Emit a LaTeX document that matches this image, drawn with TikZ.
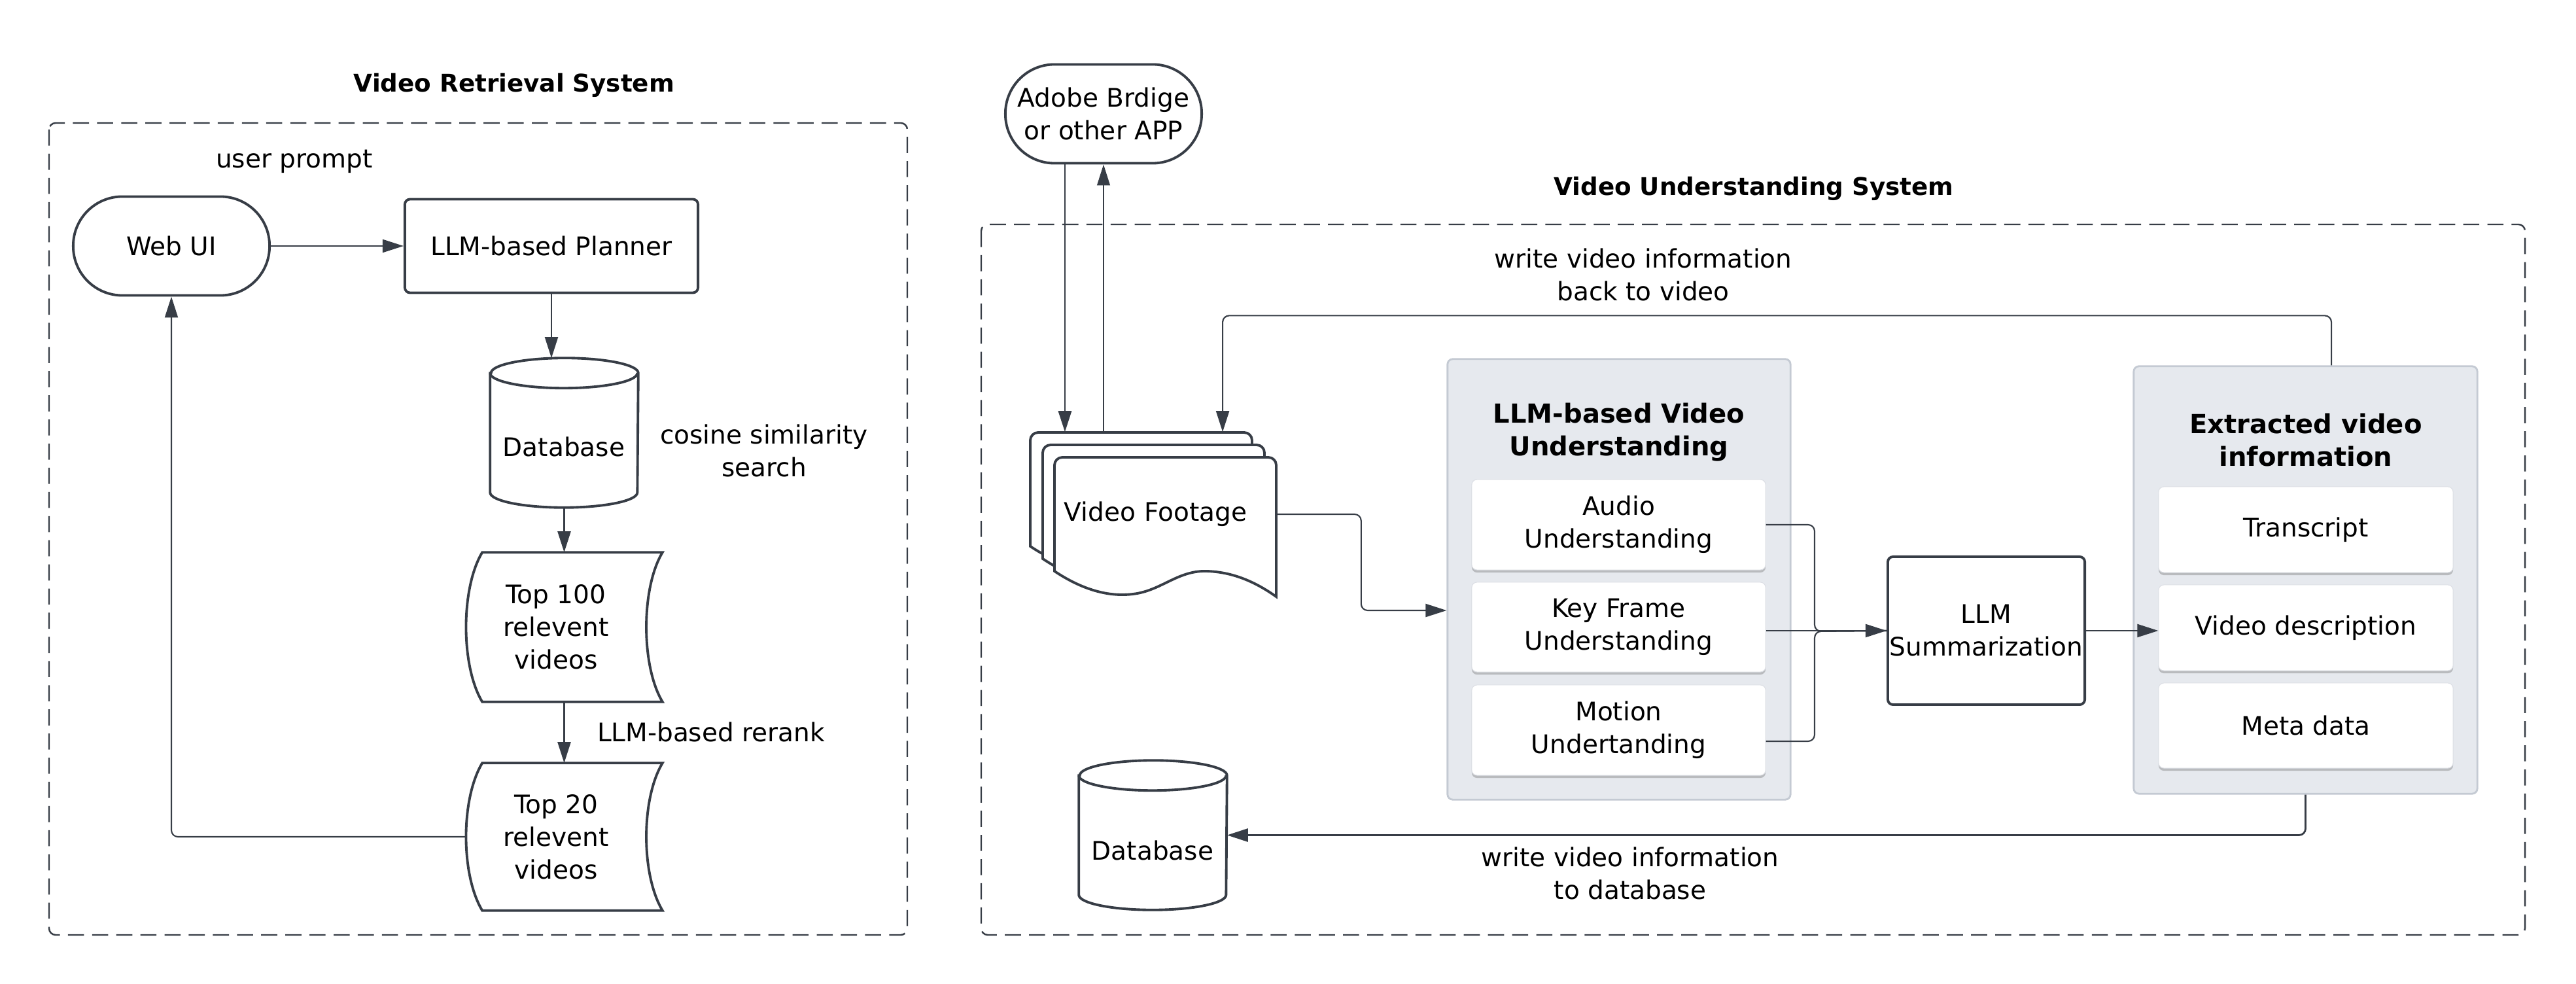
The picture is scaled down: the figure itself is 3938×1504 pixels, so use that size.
\documentclass[tikz,border=0pt]{standalone}
\usepackage{fontspec}
\setmainfont{DejaVu Sans}
\usetikzlibrary{arrows.meta,shadows,calc,backgrounds}
\definecolor{linec}{HTML}{373D46}
\definecolor{grpfill}{HTML}{E6E9EE}
\definecolor{grpdraw}{HTML}{C4CAD3}
\begin{document}
\begin{tikzpicture}[x=0.01cm, y=-0.01cm,
  txt/.style={font=\fontsize{11.1}{14.2}\selectfont, align=center, text=black, inner sep=0pt},
  shp/.style={draw=linec, line width=1.1pt, fill=white},
  conn/.style={draw=linec, line width=0.6pt},
  arr/.style={conn, -{Triangle[length=0.32cm,width=0.2cm]}},
  dbox/.style={draw=linec, line width=0.7pt, dash pattern=on 7pt off 3.5pt, rounded corners=0.1cm},
  grp/.style={fill=grpfill, draw=grpdraw, line width=0.8pt, rounded corners=0.08cm, inner sep=0pt},
  innerbox/.style={txt, fill=white, draw=grpdraw!60, line width=0.3pt, rounded corners=0.08cm,
    drop shadow={shadow xshift=0cm, shadow yshift=-0.04cm, opacity=0.35, fill=black!60}},
  ttl/.style={font=\fontsize{10.6}{13}\selectfont\bfseries, inner sep=0pt},
  gttl/.style={font=\fontsize{11.4}{14.2}\selectfont\bfseries, align=center, inner sep=0pt},
  stadium/.style={txt, shp, rounded corners=0.75cm, minimum width=3cm, minimum height=1.51cm},
  rbox/.style={txt, shp, rounded corners=0.08cm}
]
\useasboundingbox (0,0) rectangle (3938,1504);

% ---------------- Left system ----------------
\node[ttl] (lt) at (786,130) {Video Retrieval System};
\node[stadium] (webui) at (262,376) {Web UI};
\node[rbox, minimum width=4.48cm, minimum height=1.43cm] (planner) at (843,376) {LLM-based Planner};
\node[txt] (up) at (450,247) {user prompt};
\node[txt, minimum width=2.25cm, minimum height=2.27cm] (db1) at (862.5,661.5) {};
\node[txt] (db1t) at (862,683) {Database};
\node[txt] (cos) at (1168,689) {cosine similarity\\search};
\node[txt, minimum width=2.74cm, minimum height=2.27cm] (top100) at (850,958.5) {Top 100\\relevent\\videos};
\node[txt] (rr) at (1087,1119) {LLM-based rerank};
\node[txt, minimum width=2.74cm, minimum height=2.24cm] (top20) at (850,1279) {Top 20\\relevent\\videos};

% ---------------- Right system ----------------
\node[stadium] (adobe) at (1687,174) {Adobe Brdige\\or other APP};
\node[ttl] (rt) at (2681,288) {Video Understanding System};
\node[txt] (wb) at (2512,420) {write video information\\back to video};
\node[txt] (wd) at (2492,1335) {write video information\\to database};

\node[inner sep=0pt, minimum width=3.38cm, minimum height=1.74cm] (vfb) at (1744,748) {};
\node[txt, align=left, text width=3.09cm, inner xsep=0.15cm, minimum height=1.74cm] (vf) at (1781.5,786) {Video Footage};

\node[txt, minimum width=2.25cm, minimum height=2.27cm] (db2) at (1762.5,1276.5) {};
\node[txt] (db2t) at (1762,1300) {Database};

\node[grp, minimum width=5.24cm, minimum height=6.73cm] (und) at (2475,885.5) {};
\node[gttl] (undt) at (2475,661) {LLM-based Video\\Understanding};
\node[innerbox, minimum width=4.49cm, minimum height=1.38cm] (audio) at (2474.5,802) {Audio\\Understanding};
\node[innerbox, minimum width=4.49cm, minimum height=1.37cm] (key) at (2474.5,958.5) {Key Frame\\Understanding};
\node[innerbox, minimum width=4.49cm, minimum height=1.38cm] (motion) at (2474.5,1116) {Motion\\Undertanding};

\node[rbox, minimum width=3.01cm, minimum height=2.26cm] (sum) at (3036.5,964) {LLM\\Summarization};

\node[grp, minimum width=5.25cm, minimum height=6.53cm] (ext) at (3524.5,886.5) {};
\node[gttl] (extt) at (3525,673) {Extracted video\\information};
\node[innerbox, minimum width=4.5cm, minimum height=1.31cm] (trans) at (3525,809.5) {Transcript};
\node[innerbox, minimum width=4.5cm, minimum height=1.31cm] (vdesc) at (3525,959.5) {Video description};
\node[innerbox, minimum width=4.5cm, minimum height=1.30cm] (meta) at (3525,1109) {Meta data};

% ---------------- Background shapes ----------------
\begin{scope}[on background layer]
  \draw[dbox] (75,188) rectangle (1387,1429);
  \draw[dbox] (1500,343) rectangle (3860,1429);
  % cylinders
  \foreach \d in {db1,db2}{
    \draw[shp] ($(\d.north west)+(0,23)$) -- ($(\d.south west)+(0,-23)$)
      arc[start angle=180, end angle=360, x radius=1.125cm, y radius=0.23cm]
      -- ($(\d.north east)+(0,23)$)
      arc[start angle=0, end angle=180, x radius=1.125cm, y radius=0.23cm] -- cycle;
    \draw[shp, fill=none] ($(\d.north west)+(0,23)$)
      arc[start angle=180, end angle=360, x radius=1.125cm, y radius=0.23cm];
  }
  % stored data shapes
  \foreach \s in {top100,top20}{
    \draw[shp] ($(\s.north west)+(25,0)$) -- ($(\s.north east)+(25,0)$)
      .. controls ($(\s.north east)+(-8,55)$) and ($(\s.south east)+(-8,-55)$) .. ($(\s.south east)+(25,0)$)
      -- ($(\s.south west)+(25,0)$)
      .. controls ($(\s.south west)+(-8,-55)$) and ($(\s.north west)+(-8,55)$) .. cycle;
  }
  % video footage sheets
  \foreach \L/\T in {1575/661, 1594/680, 1612/699}{
    \begin{scope}[shift={(\L,\T)}]
      \draw[shp] (0,174) -- (0,12) arc[start angle=180,end angle=90,radius=0.12cm]
        -- (327,0) arc[start angle=90,end angle=0,radius=0.12cm]
        -- (339,213) .. controls (308,191) and (273,175) .. (232,174)
        .. controls (188,173) and (163,204) .. (120,209)
        .. controls (88,213) and (48,206) .. (0,174) -- cycle;
    \end{scope}
  }
\end{scope}

% ---------------- Connectors ----------------
\draw[arr] (webui.east) -- (planner.west);
\draw[arr] (planner.south) -- (planner.south |- db1.north);
\draw[arr] (db1.south) -- (db1.south |- top100.north);
\draw[arr] (top100.south -| db1.south) -- (db1.south |- top20.north);
\draw[arr, rounded corners=0.1cm] (top20.west) -| (webui.south);

\draw[arr, line width=0.8pt] ([xshift=-0.59cm]adobe.south) -- ([xshift=-0.59cm]adobe.south |- vfb.north);
\draw[arr, line width=0.4pt] (vfb.north -| adobe.south) -- (adobe.south);
\draw[arr, rounded corners=0.1cm] ([xshift=0.395cm]ext.north) -- ++(0,-76) -| ([xshift=1.25cm]vfb.north);
\draw[arr, rounded corners=0.1cm] (vf.east) -- ++(129,0) |- ([yshift=-0.475cm]und.west);

\coordinate (jn) at (2774,965);
\draw[conn, rounded corners=0.1cm] (audio.east) -| (jn) -- (sum.west);
\draw[conn, rounded corners=0.1cm] ([yshift=-0.17cm]motion.east) -| (jn) -- (sum.west);
\draw[arr] (key.east |- sum.west) -- (sum.west);
\draw[arr] (sum.east) -- (sum.east -| vdesc.west);
\draw[arr, line width=0.8pt, rounded corners=0.1cm] (ext.south) |- (db2.east);
\end{tikzpicture}
\end{document}
